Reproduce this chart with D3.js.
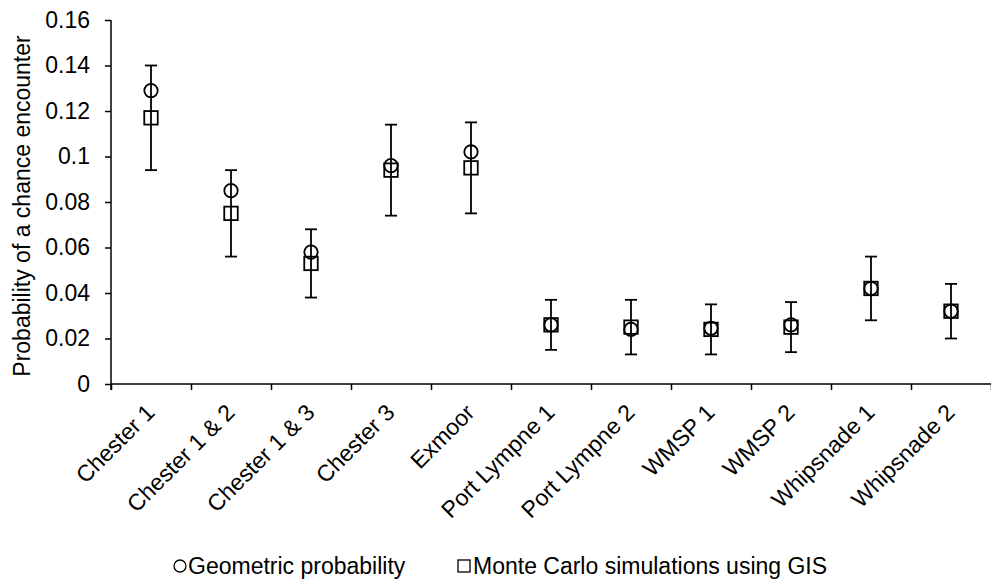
<!DOCTYPE html>
<html>
<head>
<meta charset="utf-8">
<script src="https://cdn.jsdelivr.net/npm/d3@7"></script>
<style>
  html, body { margin: 0; padding: 0; background: #fff; }
  svg { display: block; font-family: "Liberation Sans", Arial, sans-serif; }
  .axis path, .axis line { stroke: #000; stroke-width: 1.5; }
  .axis text { fill: #000; font-size: 23px; font-family: "Liberation Sans", Arial, sans-serif; }
</style>
</head>
<body>
<svg id="chart" width="991" height="584"></svg>
<script>
// Site / run names along the x axis
const sites = ["Chester 1", "Chester 1 & 2", "Chester 1 & 3", "Chester 3", "Exmoor",
  "Port Lympne 1", "Port Lympne 2", "WMSP 1", "WMSP 2", "Whipsnade 1", "Whipsnade 2"];

// Geometric probability (circles)
const geometric = [0.129, 0.085, 0.058, 0.096, 0.102, 0.026, 0.024, 0.0245, 0.026, 0.042, 0.032];

// Monte Carlo simulations using GIS (squares) + error bar half-width
const monteCarlo = [0.117, 0.075, 0.053, 0.094, 0.095, 0.026, 0.025, 0.024, 0.025, 0.042, 0.032];
const mcError = [0.023, 0.019, 0.015, 0.020, 0.020, 0.011, 0.012, 0.011, 0.011, 0.014, 0.012];

const yTicks = [0, 0.02, 0.04, 0.06, 0.08, 0.1, 0.12, 0.14, 0.16];

const svg = d3.select("#chart");
const mLeft = 111, mRight = 991, mTop = 20, mBottom = 384;
const fs = 23;

const x = d3.scaleBand().domain(sites).range([mLeft, mRight]).padding(0);
const xEdge = d3.scaleLinear().domain([0, sites.length]).range([mLeft, mRight]);
const y = d3.scaleLinear().domain([0, 0.16]).range([mBottom, mTop]);

// Y axis
svg.append("g")
  .attr("class", "axis")
  .attr("transform", `translate(${mLeft},0)`)
  .call(d3.axisLeft(y).tickValues(yTicks).tickSize(6).tickPadding(15)
    .tickFormat(d => String(+d.toFixed(2))))
  .call(g => g.select(".domain").attr("d", `M0,${mTop}V${mBottom + 6}`));

// X axis: ticks at category boundaries
svg.append("g")
  .attr("class", "axis")
  .attr("transform", `translate(0,${mBottom})`)
  .call(d3.axisBottom(xEdge).tickValues(d3.range(sites.length + 1)).tickSize(6).tickFormat(""))
  .call(g => g.select(".domain").attr("d", `M${mLeft},0H${mRight}`));

// Category labels, rotated
svg.append("g")
  .selectAll("text")
  .data(sites)
  .join("text")
  .attr("transform", d => `translate(${x(d) + x.bandwidth() / 2 + 5},${mBottom + 30}) rotate(-45)`)
  .attr("text-anchor", "end")
  .attr("font-size", fs)
  .text(d => d);

// Y axis title
svg.append("text")
  .attr("transform", `translate(30,206) rotate(-90)`)
  .attr("text-anchor", "middle")
  .attr("font-size", fs)
  .text("Probability of a chance encounter");

const cx = d => x(d) + x.bandwidth() / 2;

// Error bars on Monte Carlo series
const eb = svg.append("g").attr("stroke", "#000").attr("stroke-width", 1.8);
sites.forEach((s, i) => {
  const hi = y(monteCarlo[i] + mcError[i]), lo = y(monteCarlo[i] - mcError[i]);
  eb.append("line").attr("x1", cx(s)).attr("x2", cx(s)).attr("y1", hi).attr("y2", lo);
  eb.append("line").attr("x1", cx(s) - 6).attr("x2", cx(s) + 6).attr("y1", hi).attr("y2", hi);
  eb.append("line").attr("x1", cx(s) - 6).attr("x2", cx(s) + 6).attr("y1", lo).attr("y2", lo);
});

// Squares (Monte Carlo)
svg.append("g")
  .selectAll("rect")
  .data(sites)
  .join("rect")
  .attr("x", d => cx(d) - 6.75)
  .attr("y", (d, i) => y(monteCarlo[i]) - 6.75)
  .attr("width", 13.5).attr("height", 13.5)
  .attr("fill", "none").attr("stroke", "#000").attr("stroke-width", 1.8);

// Circles (Geometric)
svg.append("g")
  .selectAll("circle")
  .data(sites)
  .join("circle")
  .attr("cx", d => cx(d))
  .attr("cy", (d, i) => y(geometric[i]))
  .attr("r", 6.7)
  .attr("fill", "none").attr("stroke", "#000").attr("stroke-width", 1.8);

// Legend
const lg = svg.append("g").attr("font-size", fs);
lg.append("circle").attr("cx", 180).attr("cy", 566).attr("r", 6)
  .attr("fill", "none").attr("stroke", "#000").attr("stroke-width", 1.3);
lg.append("text").attr("x", 188).attr("y", 566).attr("dy", "0.35em").text("Geometric probability");
lg.append("rect").attr("x", 458).attr("y", 560).attr("width", 12).attr("height", 12)
  .attr("fill", "none").attr("stroke", "#000").attr("stroke-width", 1.3);
lg.append("text").attr("x", 473).attr("y", 566).attr("dy", "0.35em").text("Monte Carlo simulations using GIS");
</script>
</body>
</html>
